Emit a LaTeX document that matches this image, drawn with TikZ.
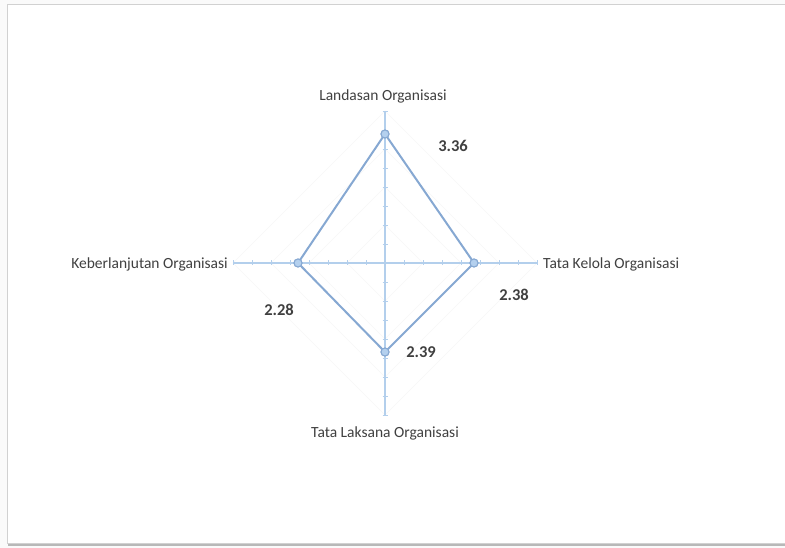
\documentclass[tikz,border=0pt]{standalone}
\usepackage{fontspec}
\setmainfont{Carlito}
\definecolor{axisblue}{HTML}{B3CFEC}
\definecolor{lineblue}{HTML}{86A8D2}
\definecolor{markfill}{HTML}{B4D0EE}
\definecolor{txt}{HTML}{404040}
\begin{document}
\begin{tikzpicture}[x=1pt,y=-1pt,
  axisline/.style={draw=axisblue,line width=1.1pt},
  gridline/.style={draw=black!3,line width=0.6pt},
  dataline/.style={draw=lineblue,line width=2pt,line join=round},
  marker/.style={circle,draw=lineblue,fill=markfill,line width=1pt,minimum size=8pt,inner sep=0pt},
  catlabel/.style={text=txt,font=\fontsize{15.5}{18}\selectfont,inner sep=0pt},
  vallabel/.style={text=txt,font=\fontsize{16.5}{19}\bfseries\selectfont,inner sep=0pt}]
\useasboundingbox (0,0) rectangle (785,548);
\fill[white!98!black] (0,0) rectangle (785,548);
\fill[white] (7,5) rectangle (785,543);
\draw[black!18,line width=1pt] (800,5) -- (7,5) -- (7,543) -- (800,543);
\draw[black!28,line width=1.5pt] (8,545) -- (800,545);
% axis ends and centre
\coordinate (c) at (385,263);
\coordinate (top) at (385,111);
\coordinate (right) at (537,263);
\coordinate (bottom) at (385,415);
\coordinate (left) at (233,263);
% faint grid diamonds
\foreach \r in {38,76,114,152}{
  \draw[gridline] (385,263-\r) -- (385+\r,263) -- (385,263+\r) -- (385-\r,263) -- cycle;
}
% axes
\draw[axisline] (top) -- (bottom);
\draw[axisline] (left) -- (right);
\foreach \d in {19,38,...,152}{
  \draw[axisblue,line width=0.7pt] (382.5,263-\d) -- (387.5,263-\d);
  \draw[axisblue,line width=0.7pt] (382.5,263+\d) -- (387.5,263+\d);
  \draw[axisblue,line width=0.7pt] (385-\d,260.5) -- (385-\d,265.5);
  \draw[axisblue,line width=0.7pt] (385+\d,260.5) -- (385+\d,265.5);
}
% data
\node[marker] (pL) at (385,134) {};
\node[marker] (pK) at (474,263) {};
\node[marker] (pT) at (385,352) {};
\node[marker] (pB) at (298,263) {};
\draw[dataline] (pL.center) -- (pK.center) -- (pT.center) -- (pB.center) -- cycle;
\node[marker] at (pL) {};
\node[marker] at (pK) {};
\node[marker] at (pT) {};
\node[marker] at (pB) {};
% labels
\node[catlabel] (lL) at (383,96) {Landasan Organisasi};
\node[catlabel,anchor=west] (lK) at (543,264) {Tata Kelola Organisasi};
\node[catlabel] (lT) at (385,433) {Tata Laksana Organisasi};
\node[catlabel,anchor=east] (lB) at (228,264) {Keberlanjutan Organisasi};
\node[vallabel] (vL) at (453,146) {3.36};
\node[vallabel] (vK) at (514,295) {2.38};
\node[vallabel] (vT) at (421,352) {2.39};
\node[vallabel] (vB) at (279,310) {2.28};
\end{tikzpicture}
\end{document}
